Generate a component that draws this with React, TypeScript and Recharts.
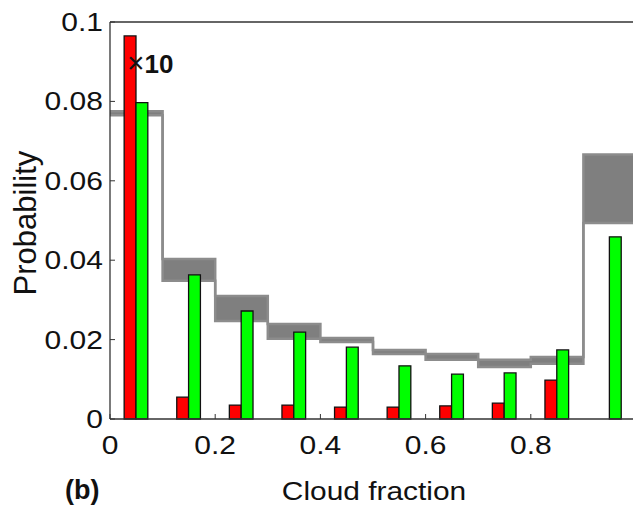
import React from "react";
import { ComposedChart, Bar, Area, XAxis, YAxis } from "recharts";

// histogram bins (centres) and the two observed distributions
const binCenters = [0.05, 0.15, 0.25, 0.35, 0.45, 0.55, 0.65, 0.75, 0.85, 0.95];
const redValues = [0.0965, 0.0055, 0.0035, 0.0035, 0.003, 0.003, 0.0033, 0.004, 0.0098, 0];
const greenValues = [0.0797, 0.0363, 0.0272, 0.0219, 0.0181, 0.0134, 0.0113, 0.0116, 0.0174, 0.0459];

// grey range band (step, one value per bin edge, last edge repeats)
const bandEdges = [0, 0.1, 0.2, 0.3, 0.4, 0.5, 0.6, 0.7, 0.8, 0.9, 1.0];
const bandLow = [0.0765, 0.0348, 0.0247, 0.0202, 0.0194, 0.0164, 0.0149, 0.0131, 0.0139, 0.0494, 0.0494];
const bandHigh = [0.0775, 0.0403, 0.031, 0.0239, 0.0204, 0.0174, 0.0164, 0.0149, 0.0156, 0.0666, 0.0666];

const xTicks = [0, 0.2, 0.4, 0.6, 0.8, 1];
const xTickLabels = ["0", "0.2", "0.4", "0.6", "0.8", ""]; // "1" falls outside the frame
const yTicks = [0, 0.02, 0.04, 0.06, 0.08, 0.1];
const yTickLabels = ["0", "0.02", "0.04", "0.06", "0.08", "0.1"];

const FONT = "'Liberation Sans', Arial, Helvetica, sans-serif";
const AXIS = "#333333";

const barRows = binCenters.map((x, i) => ({ x, red: redValues[i], green: greenValues[i] }));
const bandRows = bandEdges.map((x, i) => ({ x, lo: bandLow[i], hi: bandHigh[i] }));

// tick text is a bit wider than a plain sans, so stretch it horizontally
const XTick = (props: any) => {
  const { x, y, index } = props;
  return (
    <g transform={`translate(${x},${y})`}>
      <text transform="scale(1.2,1)" textAnchor="middle" fontSize={25} fontFamily={FONT} fill="#111">
        {xTickLabels[index]}
      </text>
    </g>
  );
};

const YTick = (props: any) => {
  const { x, y, index } = props;
  return (
    <g transform={`translate(${x},${y})`}>
      <text transform="scale(1.2,1)" textAnchor="end" dy={9} fontSize={25} fontFamily={FONT} fill="#111">
        {yTickLabels[index]}
      </text>
    </g>
  );
};

export default function App() {
  return (
    <div style={{ position: "absolute", left: 0, top: 0, width: 633, height: 508, overflow: "hidden", background: "#fff" }}>
      <ComposedChart
        width={650}
        height={508}
        data={barRows}
        barGap={0}
        margin={{ top: 21, right: 13, bottom: 39, left: 10 }}
      >
        <XAxis
          xAxisId="b"
          dataKey="x"
          type="number"
          domain={[0, 1]}
          ticks={xTicks}
          height={50}
          tickSize={-5}
          tickMargin={40}
          tick={<XTick />}
          axisLine={{ stroke: AXIS, strokeWidth: 1.3 }}
          tickLine={{ stroke: AXIS }}
        />
        <XAxis
          xAxisId="t"
          orientation="top"
          type="number"
          domain={[0, 1]}
          ticks={xTicks}
          height={1}
          tickSize={-5}
          tick={false}
          axisLine={{ stroke: AXIS, strokeWidth: 1.3 }}
          tickLine={{ stroke: AXIS }}
        />
        <YAxis
          yAxisId="l"
          type="number"
          domain={[0, 0.1]}
          ticks={yTicks}
          width={100}
          tickSize={-5}
          tickMargin={12}
          tick={<YTick />}
          axisLine={{ stroke: AXIS, strokeWidth: 1.3 }}
          tickLine={{ stroke: AXIS }}
        />
        <YAxis
          yAxisId="r"
          orientation="right"
          type="number"
          domain={[0, 0.1]}
          ticks={yTicks}
          width={1}
          tickSize={-5}
          tick={false}
          axisLine={{ stroke: AXIS, strokeWidth: 1.3 }}
          tickLine={{ stroke: AXIS }}
        />

        {/* grey range band */}
        <Area
          xAxisId="b"
          yAxisId="l"
          data={bandRows}
          dataKey={(d: any) => [d.lo, d.hi]}
          type="stepAfter"
          fill="#7f7f7f"
          fillOpacity={1}
          stroke="#8c8c8c"
          strokeWidth={2.5}
          isAnimationActive={false}
        />

        <Bar xAxisId="b" yAxisId="l" dataKey="red" fill="#ff0000" stroke="#111" strokeWidth={1.3} barSize={16} isAnimationActive={false} />
        <Bar xAxisId="b" yAxisId="l" dataKey="green" fill="#00ff00" stroke="#111" strokeWidth={1.3} barSize={16} isAnimationActive={false} />

        <text transform="translate(36,223) rotate(-90)" textAnchor="middle" fontSize={31} fontFamily={FONT} fill="#111">
          Probability
        </text>
        <text transform="translate(374,500) scale(1.15,1)" textAnchor="middle" fontSize={26} fontFamily={FONT} fill="#111">
          Cloud fraction
        </text>
        <text x={65} y={499} fontSize={27} fontWeight="bold" fontFamily={FONT} fill="#111">
          (b)
        </text>
      </ComposedChart>
      {/* scale note sits on top of the red bar */}
      <div
        style={{
          position: "absolute",
          left: 127,
          top: 50,
          fontFamily: FONT,
          fontSize: 26,
          lineHeight: "26px",
          color: "#111",
          whiteSpace: "nowrap",
        }}
      >
        <span style={{ fontSize: 30, fontWeight: "normal" }}>×</span>
        <span style={{ fontWeight: "bold" }}>10</span>
      </div>
    </div>
  );
}
